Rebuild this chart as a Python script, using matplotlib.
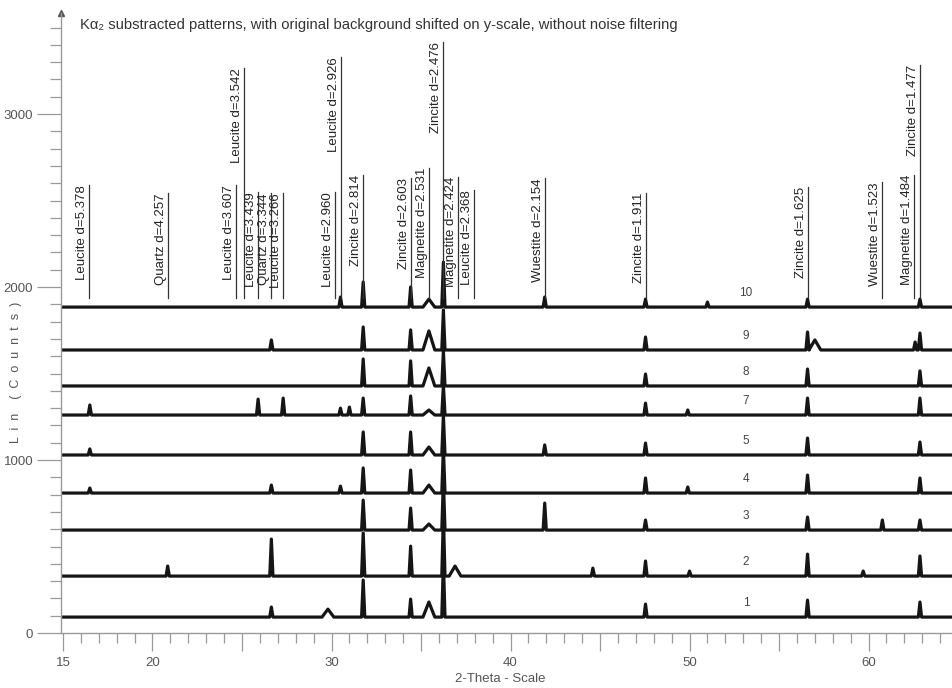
import matplotlib
matplotlib.use("Agg")
import matplotlib.pyplot as plt
from matplotlib.ticker import MultipleLocator, FuncFormatter

plt.rcParams['font.family'] = ['Liberation Sans', 'DejaVu Sans']

# ---------------- data ----------------
trace_names = ["1", "2", "3", "4", "5", "7", "8", "9", "10"]
trace_base = [92, 329, 595, 809, 1029, 1260, 1428, 1636, 1884]

# peak positions (2-theta) and peak heights above baseline (counts)
t1_pos = [26.64, 29.8, 31.77, 34.42, 35.44, 36.25, 47.54, 56.59, 62.87]
t1_h = [58, 46, 214, 104, 87, 318, 75, 98, 87]
t2_pos = [20.85, 26.64, 31.77, 34.42, 36.25, 36.9, 44.6, 47.54, 50.0, 56.59, 59.7, 62.87]
t2_h = [58, 214, 249, 173, 347, 58, 46, 87, 29, 127, 29, 116]
t3_pos = [31.77, 34.42, 35.44, 36.25, 41.91, 47.54, 56.59, 60.77, 62.87]
t3_h = [173, 127, 35, 289, 156, 58, 75, 58, 58]
t4_pos = [16.5, 26.64, 30.5, 31.77, 34.42, 35.44, 36.25, 47.54, 49.9, 56.59, 62.87]
t4_h = [29, 46, 40, 145, 133, 46, 260, 87, 35, 104, 87]
t5_pos = [16.5, 31.77, 34.42, 35.44, 36.25, 41.91, 47.54, 56.59, 62.87]
t5_h = [35, 133, 133, 46, 231, 58, 69, 98, 75]
t7_pos = [16.5, 25.9, 27.3, 30.5, 31.0, 31.77, 34.42, 35.44, 36.25, 47.54, 49.9, 56.59, 62.87]
t7_h = [58, 92, 98, 40, 46, 98, 110, 29, 173, 69, 29, 98, 98]
t8_pos = [31.77, 34.42, 35.44, 36.25, 47.54, 56.59, 62.87]
t8_h = [156, 145, 104, 202, 69, 98, 87]
t9_pos = [26.64, 31.77, 34.42, 35.44, 36.25, 47.54, 56.59, 57.0, 62.6, 62.87]
t9_h = [58, 133, 116, 110, 231, 75, 104, 58, 46, 98]
t10_pos = [30.5, 31.77, 34.42, 35.44, 36.25, 41.91, 47.54, 51.0, 56.59, 62.87]
t10_h = [58, 145, 116, 46, 260, 58, 46, 29, 46, 46]

peak_positions = [t1_pos, t2_pos, t3_pos, t4_pos, t5_pos, t7_pos, t8_pos, t9_pos, t10_pos]
peak_heights = [t1_h, t2_h, t3_h, t4_h, t5_h, t7_h, t8_h, t9_h, t10_h]
broad_peaks = [29.8, 35.44, 36.9, 57.0]

# phase identification sticks
stick_labels = ["Leucite d=5.378", "Quartz d=4.257", "Leucite d=3.607", "Leucite d=3.542",
                "Leucite d=3.439", "Quartz d=3.344", "Leucite d=3.266", "Leucite d=2.960",
                "Leucite d=2.926", "Zincite d=2.814", "Zincite d=2.603", "Magnetite d=2.531",
                "Zincite d=2.476", "Magnetite d=2.424", "Leucite d=2.368", "Wuestite d=2.154",
                "Zincite d=1.911", "Zincite d=1.625", "Wuestite d=1.523", "Magnetite d=1.484",
                "Zincite d=1.477"]
stick_pos = [16.47, 20.85, 24.66, 25.12, 25.89, 26.64, 27.28, 30.17, 30.53, 31.77, 34.42,
             35.44, 36.25, 37.06, 37.97, 41.91, 47.54, 56.59, 60.77, 62.54, 62.87]
stick_top = [2590, 2543, 2590, 3266, 2549, 2543, 2543, 2549, 3329, 2647, 2630, 2688,
             3416, 2636, 2561, 2630, 2543, 2578, 2607, 2647, 3283]
stick_bottom = 1935

title = "K\u03b1\u2082 substracted patterns, with original background shifted on y-scale, without noise filtering"
xlabel = "2-Theta - Scale"
ylabel = "L  i  n    (  C  o  u  n  t  s  )"
x_tick_labels = {15: "15", 20: "20", 30: "30", 40: "40", 50: "50", 60: "60"}
label_x = 53.15

# ---------------- figure ----------------
W, H = 952, 688
fig = plt.figure(figsize=(W / 100, H / 100), dpi=100)
ax = fig.add_axes([61 / W, 55 / H, (W - 61) / W, 620 / H])
xmin, xmax = 14.89, 64.66
ax.set_xlim(xmin, xmax)
ax.set_ylim(0, 3584)

narrow = 0.09
broad = 0.33
for name, base, pos, hts in zip(trace_names, trace_base, peak_positions, peak_heights):
    xs = [xmin]
    ys = [base]
    for p, h in zip(pos, hts):
        w = broad if any(abs(p - b) < 0.01 for b in broad_peaks) else narrow
        xs += [p - w, p, p + w]
        ys += [base, base + h, base]
    xs.append(xmax)
    ys.append(base)
    ax.plot(xs, ys, color="#151515", lw=2.3, solid_joinstyle="round")
    ax.text(label_x, base + 80, name, fontsize=8.5, color="#444444", ha="center", va="center")

for lab, p, top in zip(stick_labels, stick_pos, stick_top):
    ax.plot([p, p], [stick_bottom, top], color="#333333", lw=0.9)
    ax.text(p - 0.05, top, lab, rotation=90, rotation_mode="anchor", ha="right", va="bottom",
            fontsize=9.5, color="#222222")

# axes styling
for s in ["top", "right"]:
    ax.spines[s].set_visible(False)
for s in ["left", "bottom"]:
    ax.spines[s].set_color("#9a9a9a")
    ax.spines[s].set_linewidth(1.0)
ax.plot([0], [1], marker="^", ms=4, color="#555555", transform=ax.transAxes, clip_on=False)

ax.xaxis.set_major_locator(MultipleLocator(5))
ax.xaxis.set_minor_locator(MultipleLocator(1))
ax.xaxis.set_major_formatter(FuncFormatter(lambda v, p: x_tick_labels.get(int(round(v)), "")))
ax.yaxis.set_major_locator(MultipleLocator(1000))
ax.yaxis.set_minor_locator(MultipleLocator(100))
ax.tick_params(axis="x", which="major", direction="out", length=13, width=0.9, color="#9a9a9a",
               labelsize=9.5, labelcolor="#555555", pad=4)
ax.tick_params(axis="x", which="minor", direction="out", length=7, width=0.9, color="#9a9a9a")
ax.tick_params(axis="y", which="major", direction="out", length=17, width=0.9, color="#9a9a9a",
               labelsize=9.5, labelcolor="#555555", pad=3)
ax.tick_params(axis="y", which="minor", direction="out", length=8, width=0.9, color="#9a9a9a")

fig.text(80 / W, 1 - 25 / H, title, fontsize=10.6, color="#333333", ha="left", va="center")
fig.text(500 / W, 1 - 679 / H, xlabel, fontsize=9.5, color="#555555", ha="center", va="center")
fig.text(16 / W, 1 - 372 / H, ylabel, fontsize=9, color="#555555", ha="center", va="center",
         rotation=90)

fig.savefig("out.png", dpi=100, facecolor="white")
